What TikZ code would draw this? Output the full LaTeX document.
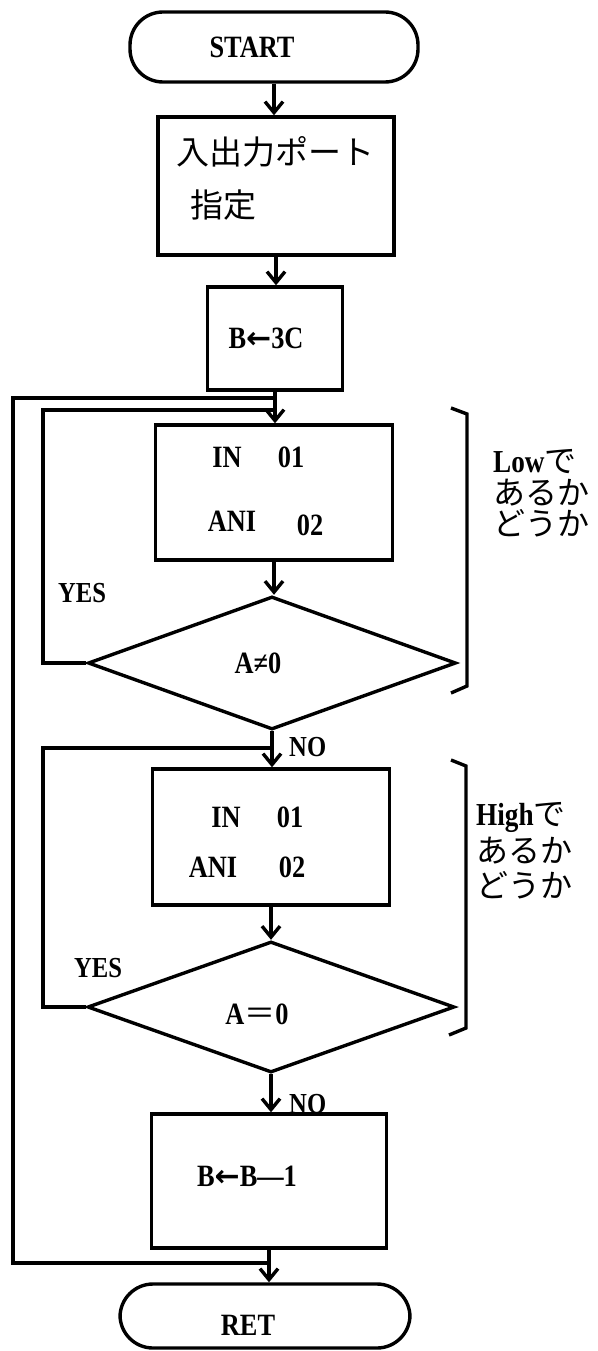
\documentclass[tikz,border=0pt]{standalone}
\usepackage{fontspec}
\setmainfont{Liberation Serif}[FakeStretch=0.85]
\newfontfamily\jp{Noto Sans CJK JP}
\newfontfamily\arrfont{DejaVu Sans}
\newcommand{\larr}{{\arrfont\bfseries\fontsize{30}{30}\selectfont ←}}
\usetikzlibrary{shapes.geometric,arrows.meta}
\tikzset{
  line/.style={line width=3.4pt},
  box/.style={draw, line width=3.4pt, rectangle, inner sep=0pt},
  term/.style={draw, line width=3.4pt, rectangle, rounded corners=33pt, inner sep=0pt},
  dec/.style={draw, line width=3.4pt, diamond, inner sep=0pt},
  flow/.style={line width=3.4pt, -{Straight Barb[length=11pt,width=18pt]}},
  txt/.style={font=\bfseries\fontsize{31}{33}\selectfont, inner sep=0pt},
  jtxt/.style={font=\jp\fontsize{33}{35}\selectfont, inner sep=0pt, anchor=west},
  side/.style={font=\jp\fontsize{32}{34}\selectfont, inner sep=0pt, anchor=west},
  lbl/.style={font=\bfseries\fontsize{29}{31}\selectfont, inner sep=0pt},
}
\begin{document}
\begin{tikzpicture}[x=1pt,y=-1pt]
\useasboundingbox (0,0) rectangle (597,1351);
% nodes
\node[term, minimum width=288pt, minimum height=70pt] (start) at (274,47) {};
\node[txt] (tstart) at (252,47) {START};
\node[box, minimum width=236pt, minimum height=138pt] (b1) at (276,186) {};
\node[jtxt] (t1a) at (176,152) {入出力ポート};
\node[jtxt] (t1b) at (190,205) {指定};
\node[box, minimum width=135pt, minimum height=103pt] (b2) at (275,338.5) {};
\node[txt] (t2) at (266,338) {B\larr 3C};
\node[box, minimum width=237pt, minimum height=135pt] (b3) at (274,492.5) {};
\node[txt] (t3a) at (227,457) {IN};
\node[txt] (t3b) at (291,457) {01};
\node[txt] (t3c) at (232,521) {ANI};
\node[txt] (t3d) at (310,525) {02};
\node[dec, minimum width=368pt, minimum height=133pt] (d1) at (272,663) {};
\node[txt] (td1) at (258,663) {A≠0};
\node[lbl] (yes1) at (82,593) {YES};
\node[lbl, anchor=west] (no1) at (289,747) {NO};
\node[box, minimum width=237pt, minimum height=136pt] (b4) at (271,837) {};
\node[txt] (t4a) at (226,817) {IN};
\node[txt] (t4b) at (290,817) {01};
\node[txt] (t4c) at (213,867) {ANI};
\node[txt] (t4d) at (292,867) {02};
\node[dec, minimum width=367pt, minimum height=131pt] (d2) at (271,1007) {};
\node[txt] (td2) at (257,1014) {A{\jp\mdseries ＝}0};
\node[lbl] (yes2) at (98,968) {YES};
\node[lbl, anchor=west] (no2) at (289,1104) {NO};
\node[box, minimum width=235pt, minimum height=134pt] (b5) at (269,1181) {};
\node[txt] (t5) at (247,1176) {B\larr B—1};
\node[term, minimum width=290pt, minimum height=64pt] (ret) at (265,1316) {};
\node[txt] (tret) at (248,1325) {RET};
% side notes
\node[side] (s1a) at (493,462) {{\rmfamily\bfseries Low}で};
\node[side] (s1b) at (493,493) {あるか};
\node[side] (s1c) at (493,523) {どうか};
\node[side] (s2a) at (476,817) {{\rmfamily\bfseries High}で};
\node[side] (s2b) at (476,851) {あるか};
\node[side] (s2c) at (476,885) {どうか};
% junctions
\coordinate (j1) at (275,398);
\coordinate (j2) at (275,410);
\coordinate (j3) at (272,748);
\coordinate (j4) at (269,1263);
% flows
\draw[flow] (start.south) -- (start.south |- b1.north);
\draw[flow] (b1.south) -- (b1.south |- b2.north);
\draw[flow] (b2.south) -- (b2.south |- b3.north);
\draw[flow] (b3.south) -- (b3.south |- d1.north);
\draw[flow] (d1.south) -- (d1.south |- b4.north);
\draw[flow] (b4.south) -- (b4.south |- d2.north);
\draw[flow] (d2.south) -- (d2.south |- b5.north);
\draw[flow] (b5.south) -- (b5.south |- ret.north);
% loops
\draw[line] (j4) -| (13,398) -- (j1);
\draw[line] (d1.west) -| (43,410) -- (j2);
\draw[line] (d2.west) -| (43,748) -- (j3);
% brackets
\draw[line] (451,408) -- (467,414) -- (467,686) -- (451,693);
\draw[line] (451,760) -- (466,766) -- (466,1028) -- (449,1035);
\end{tikzpicture}
\end{document}
